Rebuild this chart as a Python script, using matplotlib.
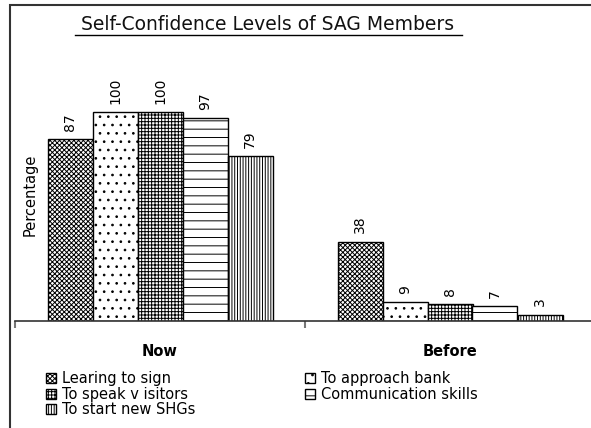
import matplotlib.pyplot as plt
from matplotlib.patches import Rectangle
from matplotlib.lines import Line2D

# data
groups = ['Now', 'Before']
series = ['Learing to sign', 'To approach bank', 'To speak v isitors',
          'Communication skills', 'To start new SHGs']
now_vals = [87, 100, 100, 97, 79]
before_vals = [38, 9, 8, 7, 3]
hatches = ['xxxxxxx', '..', '+++++', '--', '||||||']

plt.rcParams['hatch.linewidth'] = 0.7
plt.rcParams['font.family'] = 'DejaVu Sans'

W, H = 591, 428
fig = plt.figure(figsize=(W / 100, H / 100), dpi=100, facecolor='white')

# axes placed in pixel terms: baseline y=321, value 100 at y=112, x from 15 to 595
ax_left, ax_right = 15 / W, 595 / W
ax_bottom = 1 - 321 / H
ax_h = (321 - 112) / H * 1.2
ax = fig.add_axes([ax_left, ax_bottom, ax_right - ax_left, ax_h])
ax.set_xlim(-0.5, 1.5)
ax.set_ylim(0, 120)

bw = 45 / 290
for i, name in enumerate(series):
    vals = [now_vals[i], before_vals[i]]
    xs = [g + (i - 2) * bw for g in range(len(groups))]
    ax.bar(xs, vals, width=bw, color='white', edgecolor='black',
           hatch=hatches[i], linewidth=1.0, label=name)
    for x, v in zip(xs, vals):
        ax.text(x, v + 4, str(v), rotation=90, ha='center', va='bottom',
                fontsize=10)

for s in ['left', 'top', 'right']:
    ax.spines[s].set_visible(False)
ax.spines['bottom'].set_color('#333333')
ax.spines['bottom'].set_linewidth(1.2)
ax.set_yticks([])
ax.set_xticks([-0.5, 0.5, 1.5])
ax.set_xticklabels([])
ax.tick_params(axis='x', direction='out', length=5, width=1.5, color='#777777')

for g, name in enumerate(groups):
    ax.text(g, -14.5, name, ha='center', va='center', fontsize=10.5,
            fontweight='bold')

fig.text(30 / W, 1 - 195 / H, 'Percentage', rotation=90, ha='center',
         va='center', fontsize=10.5)

# title with underline
fig.text(268 / W, 1 - 24 / H, 'Self-Confidence Levels of SAG Members',
         ha='center', va='center', fontsize=13.5, color='#111111')
fig.add_artist(Line2D([75 / W, 462 / W], [1 - 35 / H, 1 - 35 / H],
                      color='black', lw=1.0))

# outer frame (left and top edges visible)
fig.add_artist(Rectangle((10 / W, -0.1), 1.2, 1 - 5 / H + 0.1,
                         fill=False, edgecolor='#333333', lw=1.5,
                         transform=fig.transFigure))

handles, labels = ax.get_legend_handles_labels()
order = [0, 2, 4, 1, 3]
fig.legend([handles[k] for k in order], [labels[k] for k in order],
           ncol=2, loc='upper left', bbox_to_anchor=(46 / W, 1 - 371 / H),
           frameon=False, fontsize=10.5, handlelength=0.7,
           handleheight=0.7, handletextpad=0.4, columnspacing=7.5,
           labelspacing=0.05, borderaxespad=0, borderpad=0)

fig.savefig('out.png', dpi=100)
